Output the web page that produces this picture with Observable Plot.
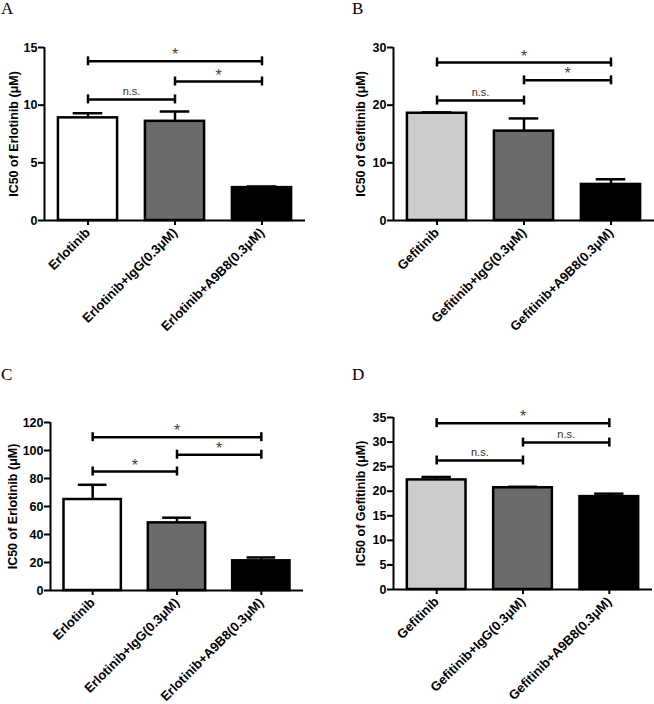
<!DOCTYPE html>
<html><head><meta charset="utf-8">
<script src="https://cdn.jsdelivr.net/npm/d3@7"></script>
<script src="https://cdn.jsdelivr.net/npm/@observablehq/plot@0.6"></script>
<style>
body{margin:0;background:#fff;}
#root{position:relative;width:654px;height:704px;overflow:hidden;font-family:"Liberation Sans",Arial,sans-serif;}
.panel{position:absolute;}
.letter{position:absolute;font-family:"Liberation Serif","Times New Roman",serif;font-size:17px;line-height:1;color:#000;}
</style></head><body><div id="root"></div>
<script>
// ---- data ----
const catsErlotinib = ["Erlotinib", "Erlotinib+IgG(0.3μM)", "Erlotinib+A9B8(0.3μM)"];
const catsGefitinib = ["Gefitinib", "Gefitinib+IgG(0.3μM)", "Gefitinib+A9B8(0.3μM)"];

const meanA = [8.9, 8.6, 2.85];
const errA  = [0.4, 0.85, 0.1];
const meanB = [18.6, 15.5, 6.25];
const errB  = [0.15, 2.2, 0.9];
const meanC = [65, 48.3, 21.2];
const errC  = [10.5, 3.7, 2.4];
const meanD = [22.3, 20.7, 18.9];
const errD  = [0.6, 0.2, 0.6];

// brackets: [fromIndex, toIndex, level, label]
const bracketsA = [[0, 2, 13.8, "*"], [1, 2, 12.05, "*"], [0, 1, 10.5, "n.s."]];
const bracketsB = [[0, 2, 27.4, "*"], [1, 2, 24.3, "*"], [0, 1, 20.8, "n.s."]];
const bracketsC = [[0, 2, 109.5, "*"], [1, 2, 97, "*"], [0, 1, 85, "*"]];
const bracketsD = [[0, 2, 33.85, "*"], [1, 2, 29.9, "n.s."], [0, 1, 26.25, "n.s."]];

const ticksA = [0, 5, 10, 15];
const ticksB = [0, 10, 20, 30];
const ticksC = [0, 20, 40, 60, 80, 100, 120];
const ticksD = [0, 5, 10, 15, 20, 25, 30, 35];

const fillsErlotinib = ["#ffffff", "#6b6b6b", "#000000"];
const fillsGefitinib = ["#cccccc", "#6b6b6b", "#000000"];

// ---- drawing ----
const root = document.getElementById("root");

function panel(cfg) {
  const {cats, means, errs, brackets, fills, yMax, yTicks, yLabel, left, top,
         width, height, mL, mR, mT, mB, titleDx} = cfg;
  const idx = [0, 1, 2];
  const plotH = height - mT - mB;
  const capDy = 4.5 * yMax / plotH;
  const ends = brackets.flatMap(b => [[b[0], b[2]], [b[1], b[2]]]);
  const stars = brackets.filter(b => b[3] === "*");
  const ns = brackets.filter(b => b[3] !== "*");
  const chart = Plot.plot({
    width, height,
    marginLeft: mL, marginRight: mR, marginTop: mT, marginBottom: mB,
    style: {fontFamily: "'Liberation Sans', Arial, sans-serif", fontWeight: "bold", fontSize: "13px", background: "white", overflow: "visible"},
    x: {domain: [-0.5, 2.5]},
    y: {domain: [0, yMax]},
    color: {type: "identity"},
    marks: [
      Plot.ruleX(idx, {x: i => i, y1: i => means[i], y2: i => means[i] + errs[i], strokeWidth: 2.5}),
      Plot.ruleY(idx, {y: i => means[i] + errs[i], x1: i => i - 0.17, x2: i => i + 0.17, strokeWidth: 2.5}),
      Plot.rectY(idx, {x1: i => i - 0.34, x2: i => i + 0.34, y1: () => 0, y2: i => means[i],
        fill: i => fills[i], stroke: "black", strokeWidth: 2.5}),
      Plot.ruleY(brackets, {y: b => b[2], x1: b => b[0], x2: b => b[1], strokeWidth: 2.5}),
      Plot.ruleX(ends, {x: e => e[0], y1: e => e[1] - capDy, y2: e => e[1] + capDy, strokeWidth: 2.5}),
      Plot.text(stars, {x: b => (b[0] + b[1]) / 2, y: b => b[2], text: b => b[3], dy: -6,
        fontSize: 16, fontWeight: "normal", fill: "#444"}),
      Plot.text(ns, {x: b => (b[0] + b[1]) / 2, y: b => b[2], text: b => b[3], dy: -8,
        fontSize: 11, fontWeight: "normal", fill: "#333"}),
      Plot.ruleY([0], {strokeWidth: 2}),
      Plot.ruleX([-0.5], {strokeWidth: 2}),
      Plot.axisY({ticks: yTicks, tickSize: 6, tickPadding: 1, strokeWidth: 2, fontSize: 12.5, fontWeight: "bold", label: null}),
      Plot.axisX({ticks: idx, tickFormat: i => cats[i], tickRotate: -45, tickSize: 5, tickPadding: 5,
        strokeWidth: 2, fontSize: 13, fontWeight: "bold", label: null}),
      Plot.text([yLabel], {text: d => d, frameAnchor: "left", textAnchor: "middle", lineAnchor: "middle",
        rotate: -90, dx: titleDx, fontSize: 12.5, fontWeight: "bold"})
    ]
  });
  const div = document.createElement("div");
  div.className = "panel";
  div.style.left = left + "px";
  div.style.top = top + "px";
  div.appendChild(chart);
  root.appendChild(div);
}

function letter(t, x, y) {
  const d = document.createElement("div");
  d.className = "letter";
  d.textContent = t;
  d.style.left = x + "px";
  d.style.top = y + "px";
  root.appendChild(d);
}

panel({cats: catsErlotinib, means: meanA, errs: errA, brackets: bracketsA, fills: fillsErlotinib,
  yMax: 15, yTicks: ticksA, yLabel: "IC50 of Erlotinib (μM)", left: 0, top: 0,
  width: 327, height: 345, mL: 44, mR: 22, mT: 47, mB: 125, titleDx: -31});
panel({cats: catsGefitinib, means: meanB, errs: errB, brackets: bracketsB, fills: fillsGefitinib,
  yMax: 30, yTicks: ticksB, yLabel: "IC50 of Gefitinib (μM)", left: 327, top: 0,
  width: 327, height: 345, mL: 66, mR: 0, mT: 47, mB: 125, titleDx: -33});
panel({cats: catsErlotinib, means: meanC, errs: errC, brackets: bracketsC, fills: fillsErlotinib,
  yMax: 120, yTicks: ticksC, yLabel: "IC50 of Erlotinib (μM)", left: 0, top: 380,
  width: 327, height: 324, mL: 50, mR: 24, mT: 42, mB: 114, titleDx: -38});
panel({cats: catsGefitinib, means: meanD, errs: errD, brackets: bracketsD, fills: fillsGefitinib,
  yMax: 35, yTicks: ticksD, yLabel: "IC50 of Gefitinib (μM)", left: 327, top: 380,
  width: 327, height: 324, mL: 66, mR: 2, mT: 37, mB: 115, titleDx: -33});

letter("A", 1, 0);
letter("B", 352, 0);
letter("C", 1, 366);
letter("D", 352, 366);
</script>
</body></html>
